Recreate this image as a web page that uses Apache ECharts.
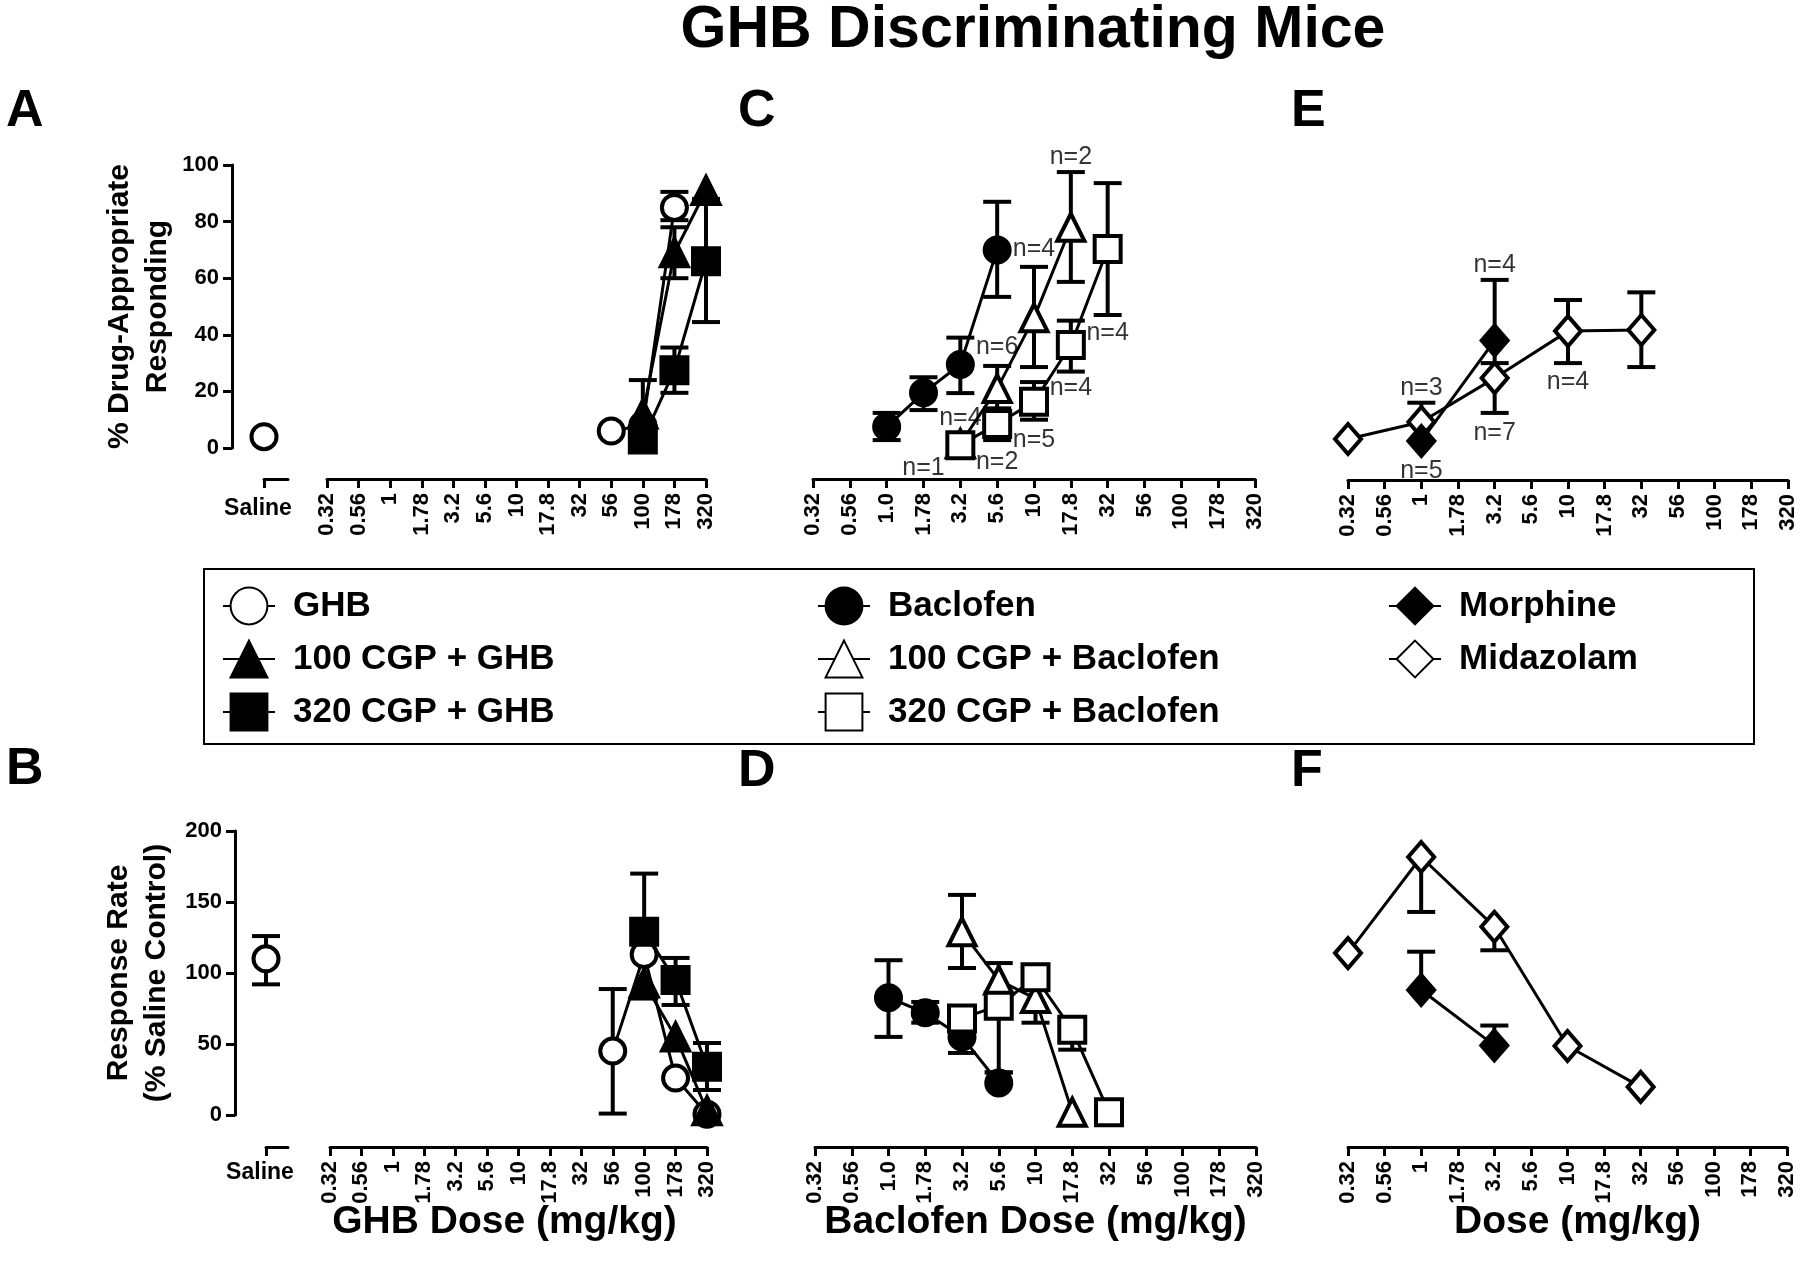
<!DOCTYPE html>
<html>
<head>
<meta charset="utf-8">
<title>GHB Discriminating Mice</title>
<script src="https://cdn.jsdelivr.net/npm/echarts@6/dist/echarts.min.js"></script>
<style>
  html, body { margin: 0; padding: 0; background: #fff; }
  #chart { width: 1800px; height: 1278px; }
</style>
</head>
<body>
<div id="chart"></div>
<script>
// dose positions shared by all x axes (half-log steps)
const doses = ['0.32', '0.56', '1', '1.78', '3.2', '5.6', '10', '17.8', '32', '56', '100', '178', '320'];
const ghbTicks = ['0.32', '0.56', '1', '1.78', '3.2', '5.6', '10', '17.8', '32', '56', '100', '178', '320'];
const baclofenTicks = ['0.32', '0.56', '1.0', '1.78', '3.2', '5.6', '10', '17.8', '32', '56', '100', '178', '320'];
const doseTicks = ['0.32', '0.56', '1', '1.78', '3.2', '5.6', '10', '17.8', '32', '56', '100', '178', '320'];
const salineTicks = ['Saline', ''];
const pctTicks = [0, 20, 40, 60, 80, 100];
const rateTicks = [0, 50, 100, 150, 200];

// rows: [dose, mean, bottom of error bar, top of error bar]
// top row panels (% drug-appropriate responding)
const ghbSalineA = [['Saline', 4, 4, 4]];
const ghbA = [['56', 6, 6, 6], ['100', 8, 8, 8], ['178', 85, 80.5, 90.5]];
const cgp100GhbA = [['100', 12, 12, 24], ['178', 69, 60, 78], ['320', 91, 91, 91]];
const cgp320GhbA = [['100', 3, 3, 3], ['178', 27.5, 19.5, 35.5], ['320', 66, 44.5, 88]];
const baclofenC = [['1', 7.5, 2.8, 12.4], ['1.78', 19.5, 13.4, 25], ['3.2', 29.5, 19.4, 39], ['5.6', 70, 53.4, 87]];
const cgp100BacC = [['3.2', 1.5, 1.5, 1.5], ['5.6', 21, 14, 29], ['10', 46, 28.6, 64], ['17.8', 78, 58.7, 97.5]];
const cgp320BacC = [['3.2', 1, 1, 1], ['5.6', 8.5, 2.8, 13.4], ['10', 16.3, 10, 23.3], ['17.8', 36.4, 27, 45], ['32', 70.3, 47, 93.6]];
const morphineE = [['1', 2.5, 2.5, 2.5], ['3.2', 38, 30, 59.4]];
const midazolamE = [['0.32', 3.2, 3.2, 3.2], ['1', 9.2, 9.2, 16], ['3.2', 24.7, 12.4, 24.7], ['10', 41.3, 30, 52.3], ['32', 41.7, 28.6, 55]];

// bottom row panels (response rate, % saline control)
const ghbSalineB = [['Saline', 110, 92, 126]];
const ghbB = [['56', 45, 1, 88.7], ['100', 113, 113, 113], ['178', 26, 26, 26], ['320', 0.5, 0.5, 0.5]];
const cgp100GhbB = [['100', 93, 82, 93], ['178', 55, 55, 55], ['320', 3, 3, 3]];
const cgp320GhbB = [['100', 129, 129, 170], ['178', 95, 77.5, 110.6], ['320', 34, 17.6, 50.7]];
const baclofenD = [['1', 82.6, 55, 109], ['1.78', 72, 65, 79.6], ['3.2', 55, 43.7, 55], ['5.6', 22.5, 22.5, 30]];
const cgp100BacD = [['3.2', 129, 103.5, 155], ['5.6', 95, 95, 107], ['10', 82, 65, 82], ['17.8', 2, 2, 2]];
const cgp320BacD = [['3.2', 68, 68, 68], ['5.6', 77, 30, 77], ['10', 97, 97, 97], ['17.8', 60, 46, 60], ['32', 2, 2, 2]];
const morphineF = [['1', 88, 88, 115], ['3.2', 49, 49, 63]];
const midazolamF = [['0.32', 114, 114, 114], ['1', 181.7, 143, 181.7], ['3.2', 132.6, 116, 132.6], ['10', 48.6, 48.6, 48.6], ['32', 19.8, 19.8, 19.8]];

// group sizes written beside points: [dose, y value, text]
const nLabelsC = [['10', 70.3, 'n=4'], ['5.6', 35.7, 'n=6'], ['1.78', -7, 'n=1'], ['3.2', 10.6, 'n=4'],
  ['17.8', 102.8, 'n=2'], ['5.6', -5, 'n=2'], ['10', 2.8, 'n=5'], ['17.8', 21.2, 'n=4'], ['32', 40.6, 'n=4']];
const nLabelsE = [['3.2', 64.7, 'n=4'], ['1', 21.2, 'n=3'], ['3.2', 5.3, 'n=7'], ['1', -8.1, 'n=5'], ['10', 23.3, 'n=4']];

const font = "'Liberation Sans', Arial, sans-serif";
const open = { color: '#fff', borderColor: '#000', borderWidth: 4 };
const solid = { color: '#000', borderColor: '#000', borderWidth: 4 };
const marks = {
  'GHB': ['circle', 25, open],
  '100 CGP + GHB': ['triangle', 27, solid],
  '320 CGP + GHB': ['rect', 26, solid],
  'Baclofen': ['circle', 25, solid],
  '100 CGP + Baclofen': ['triangle', 27, open],
  '320 CGP + Baclofen': ['rect', 26, open],
  'Morphine': ['diamond', [26, 30], solid],
  'Midazolam': ['diamond', [26, 30], open]
};

function xi(d) {
  return d === 'Saline' ? 0 : doses.indexOf(d);
}

function errorBar(params, api) {
  const x = api.value(0), m = api.value(1), lo = api.value(2), hi = api.value(3);
  const a = api.coord([x, lo]), b = api.coord([x, hi]);
  const half = 14;
  const style = { stroke: '#000', lineWidth: 4 };
  const kids = [];
  if (hi > lo) kids.push({ type: 'line', shape: { x1: a[0], y1: a[1], x2: b[0], y2: b[1] }, style });
  if (lo < m) kids.push({ type: 'line', shape: { x1: a[0] - half, y1: a[1], x2: a[0] + half, y2: a[1] }, style });
  if (hi > m) kids.push({ type: 'line', shape: { x1: b[0] - half, y1: b[1], x2: b[0] + half, y2: b[1] }, style });
  return { type: 'group', children: kids };
}

function drug(name, rows, axis) {
  const [symbol, size, style] = marks[name];
  return [{
    type: 'custom', name: name + ' error', xAxisIndex: axis, yAxisIndex: axis,
    data: rows.map(r => [xi(r[0]), r[1], r[2], r[3]]),
    renderItem: errorBar, clip: false, silent: true, z: 2
  }, {
    type: 'line', name, xAxisIndex: axis, yAxisIndex: axis,
    data: rows.map(r => [xi(r[0]), r[1]]),
    symbol, symbolSize: size, itemStyle: style, showAllSymbol: true,
    lineStyle: { color: '#000', width: 3 }, clip: false, silent: true, z: 3
  }];
}

function nLabels(rows, axis) {
  return {
    type: 'scatter', xAxisIndex: axis, yAxisIndex: axis, silent: true, clip: false, z: 5,
    data: rows.map(r => [xi(r[0]), r[1], r[2]]),
    symbolSize: 1, itemStyle: { color: 'rgba(0,0,0,0)' },
    label: {
      show: true, position: 'inside', formatter: p => p.data[2], fontSize: 25, color: '#000',
      textBorderWidth: 0, fontFamily: font
    }
  };
}

// grids: 0 saline A, 1 A, 2 C, 3 E, 4 saline B, 5 B, 6 D, 7 F
const grids = [
  { left: 264, top: 165, width: 24, height: 283 },
  { left: 327, top: 165, width: 379, height: 283 },
  { left: 813, top: 165, width: 442, height: 283 },
  { left: 1348, top: 165, width: 440, height: 283 },
  { left: 266, top: 831, width: 22, height: 284 },
  { left: 330, top: 831, width: 377, height: 284 },
  { left: 815, top: 831, width: 441, height: 284 },
  { left: 1348, top: 831, width: 439, height: 284 }
];

const axisLine = { show: true, onZero: false, lineStyle: { color: '#000', width: 3 } };
const tickStyle = { show: true, length: 9, lineStyle: { color: '#000', width: 3 } };
const tickLabel = { interval: 0, rotate: 90, margin: 14, fontSize: 22, fontWeight: 'bold', color: '#000', fontFamily: font };

function doseAxis(grid, ticks, offset, name, namePad) {
  const ax = {
    type: 'category', gridIndex: grid, data: ticks, boundaryGap: false, offset,
    axisLine, axisTick: Object.assign({ interval: 0 }, tickStyle), axisLabel: tickLabel,
    splitLine: { show: false }
  };
  if (name) {
    Object.assign(ax, {
      name, nameLocation: 'middle', nameGap: 56, nameMoveOverlap: false,
      nameTextStyle: { fontSize: 39, fontWeight: 'bold', color: '#000', fontFamily: font, padding: namePad }
    });
  }
  return ax;
}

function salineAxis(grid, offset, margin) {
  return {
    type: 'category', gridIndex: grid, data: salineTicks, boundaryGap: false, offset,
    axisLine, axisTick: Object.assign({ interval: i => i === 0 }, tickStyle),
    axisLabel: { interval: 0, margin, fontSize: 23, fontWeight: 'bold', color: '#000', fontFamily: font, padding: [0, 12, 0, 0] },
    splitLine: { show: false }
  };
}

function hiddenY(grid, max) {
  return { type: 'value', gridIndex: grid, min: 0, max, show: false, splitLine: { show: false } };
}

function shownY(grid, ticks, offset, name, gap) {
  return {
    type: 'value', gridIndex: grid, min: ticks[0], max: ticks[ticks.length - 1],
    interval: ticks[1] - ticks[0], offset,
    axisLine, axisTick: tickStyle,
    axisLabel: { margin: 13, fontSize: 22, fontWeight: 'bold', color: '#000', fontFamily: font },
    splitLine: { show: false },
    name, nameLocation: 'middle', nameRotate: 90, nameGap: gap, nameMoveOverlap: false,
    nameTextStyle: { fontSize: 30, fontWeight: 'bold', color: '#000', fontFamily: font, lineHeight: 38 }
  };
}

const letterFont = 'bold 52px ' + font;
function letter(t, x, y) {
  return { type: 'text', x, y, style: { text: t, font: letterFont, fill: '#000', textAlign: 'left', textVerticalAlign: 'top' } };
}

const legendText = { fontSize: 35, fontWeight: 'bold', color: '#000', fontFamily: font, lineHeight: 46, padding: [0, 0, 0, 13] };
function legendCol(items, left) {
  return {
    data: items, orient: 'vertical', left, top: 578, itemWidth: 52, itemHeight: 46, itemGap: 7,
    selectedMode: false, textStyle: legendText
  };
}

const option = {
  animation: false,
  backgroundColor: '#fff',
  grid: grids,
  xAxis: [
    salineAxis(0, 31, 18),
    doseAxis(1, ghbTicks, 31),
    doseAxis(2, baclofenTicks, 31),
    doseAxis(3, doseTicks, 32),
    salineAxis(4, 32, 14),
    doseAxis(5, ghbTicks, 32, 'GHB Dose (mg/kg)', [0, 28, 0, 0]),
    doseAxis(6, baclofenTicks, 32, 'Baclofen Dose (mg/kg)', [0, 0, 0, 0]),
    doseAxis(7, doseTicks, 32, 'Dose (mg/kg)', [0, 0, 0, 20])
  ],
  yAxis: [
    hiddenY(0, 100),
    shownY(1, pctTicks, 95, '% Drug-Appropriate\nResponding', 55),
    hiddenY(2, 100),
    hiddenY(3, 100),
    hiddenY(4, 200),
    shownY(5, rateTicks, 95, 'Response Rate\n(% Saline Control)', 59),
    hiddenY(6, 200),
    hiddenY(7, 200)
  ],
  legend: [
    legendCol(['GHB', '100 CGP + GHB', '320 CGP + GHB'], 217),
    legendCol(['Baclofen', '100 CGP + Baclofen', '320 CGP + Baclofen'], 812),
    legendCol(['Morphine', 'Midazolam'], 1383)
  ],
  graphic: [
    { type: 'rect', shape: { x: 204, y: 569, width: 1550, height: 175 }, style: { fill: 'none', stroke: '#000', lineWidth: 2 } },
    { type: 'text', x: 1033, y: 1, style: { text: 'GHB Discriminating Mice', font: 'bold 59px ' + font, fill: '#000', textAlign: 'center', textVerticalAlign: 'top' } },
    letter('A', 6, 86), letter('C', 738, 86), letter('E', 1291, 86),
    letter('B', 6, 744), letter('D', 738, 746), letter('F', 1291, 746)
  ],
  series: [].concat(
    drug('GHB', ghbSalineA, 0),
    drug('GHB', ghbA, 1),
    drug('100 CGP + GHB', cgp100GhbA, 1),
    drug('320 CGP + GHB', cgp320GhbA, 1),
    drug('Baclofen', baclofenC, 2),
    drug('100 CGP + Baclofen', cgp100BacC, 2),
    drug('320 CGP + Baclofen', cgp320BacC, 2),
    drug('Midazolam', midazolamE, 3),
    drug('Morphine', morphineE, 3),
    drug('GHB', ghbSalineB, 4),
    drug('GHB', ghbB, 5),
    drug('100 CGP + GHB', cgp100GhbB, 5),
    drug('320 CGP + GHB', cgp320GhbB, 5),
    drug('Baclofen', baclofenD, 6),
    drug('100 CGP + Baclofen', cgp100BacD, 6),
    drug('320 CGP + Baclofen', cgp320BacD, 6),
    drug('Midazolam', midazolamF, 7),
    drug('Morphine', morphineF, 7),
    [nLabels(nLabelsC, 2), nLabels(nLabelsE, 3)]
  )
};

const chart = echarts.init(document.getElementById('chart'), null, { renderer: 'canvas' });
chart.setOption(option);
</script>
</body>
</html>
